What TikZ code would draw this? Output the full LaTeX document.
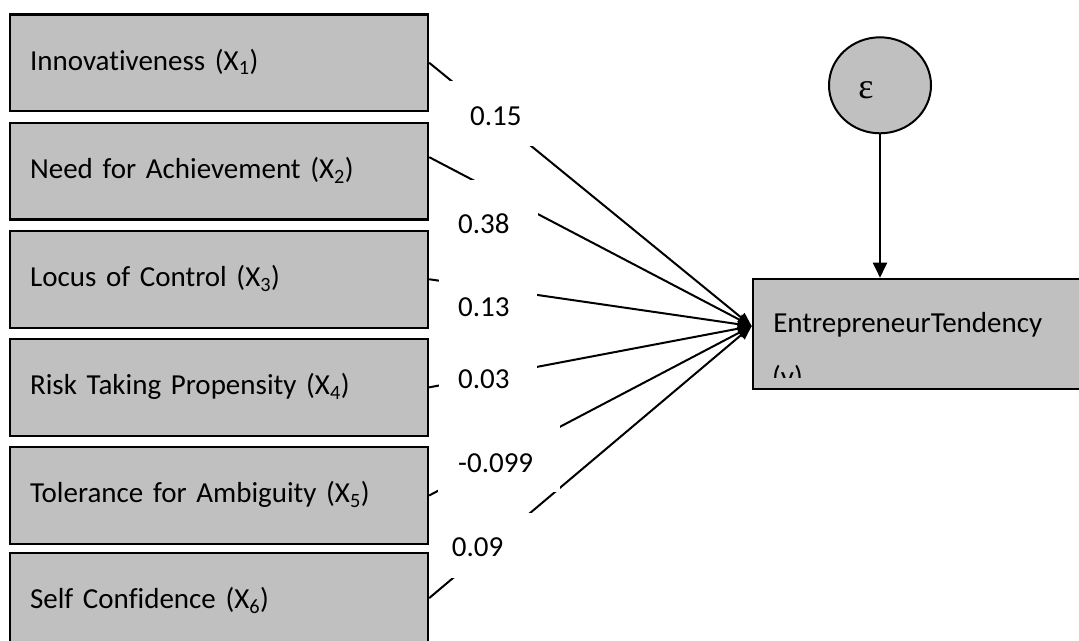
\documentclass[tikz,border=0pt]{standalone}
\usepackage{fontspec}
\setmainfont{Carlito}[Ligatures={NoCommon,NoRare},WordSpace=0.75]
\newfontfamily\epsfont{Liberation Serif}
\usetikzlibrary{arrows.meta,shapes.geometric,calc}
\definecolor{boxgray}{RGB}{192,192,192}
\begin{document}
\begin{tikzpicture}[x=1pt,y=-1pt,
  font=\fontsize{29}{35}\selectfont,
  var/.style={draw=black, line width=2.2pt, fill=boxgray, anchor=north west,
    inner xsep=20.5pt, inner ysep=0pt, align=left, text height=55.6pt},
  lab/.style={fill=white, anchor=north west, inner sep=0pt},
  conn/.style={line width=2pt, -{Triangle[length=14pt,width=11pt]}},
]
\useasboundingbox (0,0) rectangle (1079,640);
\clip (0,0) rectangle (1079,640);
% predictor boxes
\node[var, text width=377.5pt, text depth=41.1pt] (b1) at (8.5,13.3) {Innovativeness (X\textsubscript{1})};
\node[var, text width=377.5pt, text depth=41.1pt] (b2) at (8.5,121.7) {Need for Achievement (X\textsubscript{2})};
\node[var, text width=377.5pt, text depth=41.1pt] (b3) at (8.5,229.8) {Locus of Control (X\textsubscript{3})};
\node[var, text width=377.5pt, text depth=41.1pt] (b4) at (8.5,337.9) {Risk Taking Propensity (X\textsubscript{4})};
\node[var, text width=377.5pt, text depth=41.1pt] (b5) at (8.5,446) {Tolerance for Ambiguity (X\textsubscript{5})};
\node[var, text width=377.5pt, text depth=34.4pt] (b6) at (8.5,552) {Self Confidence (X\textsubscript{6})};
% outcome box
\node[var, inner xsep=20.5pt, text width=340pt, text height=54pt, text depth=56pt] (t) at (751.7,277.7) {EntrepreneurTendency};
\begin{scope}
  \clip (751.7,277.7) rectangle (1100,377);
  \node[anchor=base west, inner sep=0pt] (ty) at (772,386) {(y)};
\end{scope}
% error term
\node[draw=black, ellipse, line width=2pt, fill=boxgray, minimum width=102pt, minimum height=96pt, inner sep=0pt] (e) at (880,85.3) {};
\node[font=\epsfont\fontsize{36}{40}\selectfont, inner sep=0pt] (eps) at (866,90) {ε};
\draw[line width=2pt, -{Triangle[length=15pt,width=14pt]}] (e.south) -- (e.south |- t.north);
% paths
\coordinate (tip) at ($(t.west)+(0,-7.7)$);
\draw[conn] (b1.east) -- (tip);
\draw[conn] ($(b2.east)+(0,-14)$) -- (tip);
\draw[conn] (b3.east) -- (tip);
\draw[conn] (b4.east) -- (tip);
\draw[conn] (b5.east) -- (tip);
\draw[conn] (b6.east) -- (tip);
% coefficient labels (white text boxes over the paths)
\node[lab, text height=44pt, text depth=20.7pt] (l1) at (439,81) {\makebox[98pt][l]{\hspace*{31pt}0.15}};
\node[lab, text height=53.7pt, text depth=17pt] (l2) at (439,179.3) {\makebox[98.5pt][l]{\hspace*{19pt}0.38}};
\node[lab, text height=54.7pt, text depth=13.3pt] (l3) at (439,262) {\makebox[98pt][l]{\hspace*{19pt}0.13}};
\node[lab, text height=43pt, text depth=17pt] (l4) at (439,345) {\makebox[97.7pt][l]{\hspace*{19pt}0.03}};
\node[lab, text height=54.7pt, text depth=19.3pt] (l5) at (437.7,418) {\makebox[122.3pt][l]{\hspace*{20.3pt}-0.099}};
\node[lab, text height=44.4pt, text depth=20.6pt] (l6) at (437,512.3) {\makebox[100pt][l]{\hspace*{14.7pt}0.09}};
\end{tikzpicture}
\end{document}
